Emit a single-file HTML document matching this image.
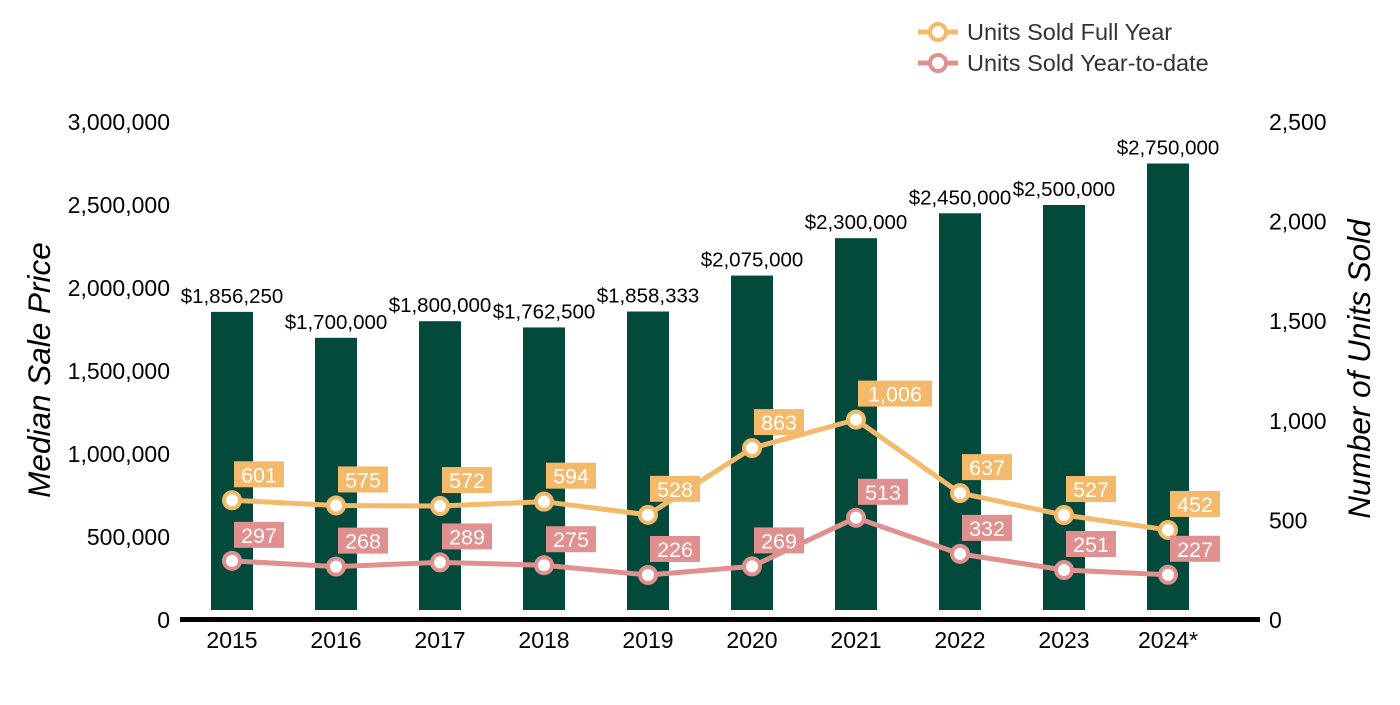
<!DOCTYPE html>
<html><head><meta charset="utf-8"><style>
body{margin:0;background:#fff;font-family:"Liberation Sans",Arial,sans-serif}
svg text{font-family:"Liberation Sans",Arial,sans-serif}
</style></head><body>
<svg id="chart" width="1400" height="700" xmlns="http://www.w3.org/2000/svg">
<g id="legend">
 <g>
  <line x1="918" y1="32" x2="958" y2="32" stroke="#f5b96b" stroke-width="5"/>
  <circle cx="938" cy="32" r="8" fill="#fff" stroke="#f5b96b" stroke-width="4"/>
  <text x="967" y="40" font-size="23.5" fill="#333">Units Sold Full Year</text>
 </g>
 <g>
  <line x1="918" y1="63" x2="958" y2="63" stroke="#e0908f" stroke-width="5"/>
  <circle cx="938" cy="63" r="8" fill="#fff" stroke="#e0908f" stroke-width="4"/>
  <text x="967" y="71" font-size="23.5" fill="#333">Units Sold Year-to-date</text>
 </g>
</g>
<text transform="translate(50,370) rotate(-90)" text-anchor="middle" font-size="31.5" font-style="italic" fill="#000">Median Sale Price</text>
<text transform="translate(1370,369) rotate(-90)" text-anchor="middle" font-size="31.5" font-style="italic" fill="#000">Number of Units Sold</text>
<g id="plot"></g>
</svg>
<script>
const categories=["2015","2016","2017","2018","2019","2020","2021","2022","2023","2024*"];
const prices=[1856250,1700000,1800000,1762500,1858333,2075000,2300000,2450000,2500000,2750000];
const fullYear=[601,575,572,594,528,863,1006,637,527,452];
const ytd=[297,268,289,275,226,269,513,332,251,227];
const leftTicks=[0,500000,1000000,1500000,2000000,2500000,3000000];
const rightTicks=[0,500,1000,1500,2000,2500];
const NS="http://www.w3.org/2000/svg";
const g=document.getElementById('plot');
const y0=620,yTop=122;
const yL=v=>y0-v/3000000*(y0-yTop);
const yR=v=>y0-v/2500*(y0-yTop);
const xC=i=>232+i*104;
function mk(t,a,p){const e=document.createElementNS(NS,t);for(const k in a)e.setAttribute(k,a[k]);(p||g).appendChild(e);return e;}
const fmt=n=>n.toLocaleString('en-US');
leftTicks.forEach(v=>{const t=mk('text',{x:170,y:yL(v)+8,'text-anchor':'end','font-size':23,fill:'#000'});t.textContent=fmt(v);

});
rightTicks.forEach(v=>{const t=mk('text',{x:1269,y:yR(v)+8,'font-size':23,fill:'#000'});t.textContent=fmt(v);

});
categories.forEach((c,i)=>{const x=xC(i);
const b=mk('rect',{x:x-21,y:yL(prices[i]),width:42,height:610-yL(prices[i]),fill:'#034a3d'});


const l=mk('text',{x:x,y:yL(prices[i])-9,'text-anchor':'middle','font-size':20.5,fill:'#000'});l.textContent='$'+fmt(prices[i]);


const t=mk('text',{x:x,y:648,'text-anchor':'middle','font-size':23,fill:'#000'});t.textContent=c;

});
const ax=mk('rect',{x:180,y:617,width:1080,height:5,fill:'#000'});


function series(vals,color,name){
 const pts=vals.map((v,i)=>xC(i)+','+yR(v)).join(' ');
 const pl=mk('polyline',{points:pts,fill:'none',stroke:color,'stroke-width':5,'stroke-linejoin':'round'});
 
 
 vals.forEach((v,i)=>{const x=xC(i),y=yR(v);
  const c=mk('circle',{cx:x,cy:y,r:8,fill:'#fff',stroke:color,'stroke-width':4});
  
  
  const s=fmt(v);const w=s.length*12+14;
  const r=mk('rect',{x:x+2,y:y-39,width:w,height:26,fill:color});
  
  
  const t=mk('text',{x:x+2+w/2,y:y-18,'text-anchor':'middle','font-size':21.5,fill:'#fff'});t.textContent=s;
  
  });
}
series(fullYear,'#f5b96b','full-year');
series(ytd,'#e0908f','ytd');
</script>
</body></html>
